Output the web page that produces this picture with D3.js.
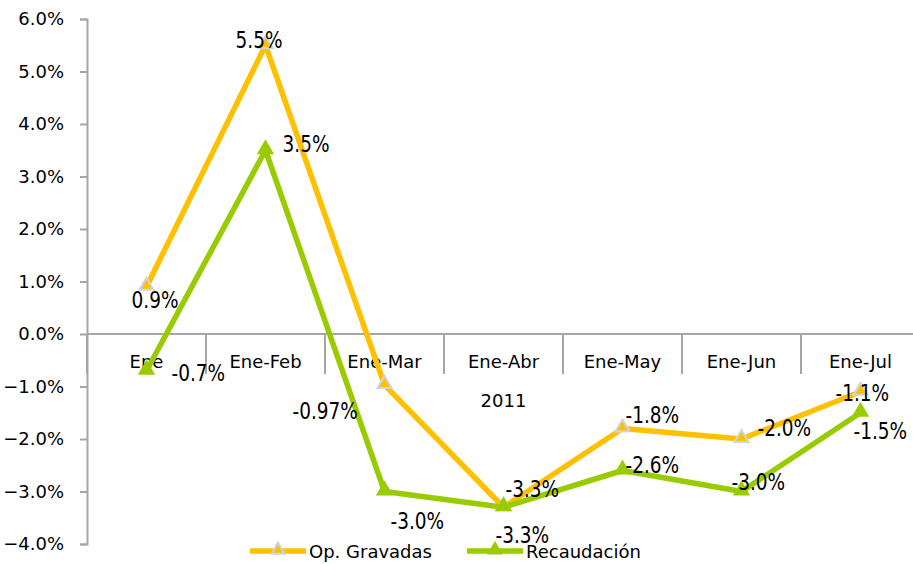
<!DOCTYPE html>
<html>
<head>
<meta charset="utf-8">
<script src="https://cdn.jsdelivr.net/npm/d3@7"></script>
<style>
  body { margin: 0; background: #fff; }
  text { font-family: "DejaVu Sans", sans-serif; fill: #000; }
</style>
</head>
<body>
<div id="wrapper"></div>
<script>
const categories = ["Ene", "Ene-Feb", "Ene-Mar", "Ene-Abr", "Ene-May", "Ene-Jun", "Ene-Jul"]
const opGravadas = [0.9, 5.5, -0.97, -3.3, -1.8, -2.0, -1.1]
const recaudacion = [-0.7, 3.5, -3.0, -3.3, -2.6, -3.0, -1.5]
const opLabels = ["0.9%", "5.5%", "-0.97%", "-3.3%", "-1.8%", "-2.0%", "-1.1%"]
const recLabels = ["-0.7%", "3.5%", "-3.0%", "-3.3%", "-2.6%", "-3.0%", "-1.5%"]
const yTicks = [6, 5, 4, 3, 2, 1, 0, -1, -2, -3, -4]
const yearLabel = "2011"

// label placement relative to the point (layout only): [dx, baseline dy]
const opOffsets = [[-15, 21], [-30, 3], [-92, 34], [2, -10], [3, -6], [16, -3], [-25, 9]]
const recOffsets = [[25, 10], [17, 2], [6, 37], [-8, 36], [3, 2], [-10, -2], [-7, 26]]

async function drawChart() {
    const dimensions = {
        width: 913,
        height: 564,
        margin: { top: 19, right: -7, bottom: 20, left: 87 },
    }
    dimensions.boundedWidth = dimensions.width - dimensions.margin.left - dimensions.margin.right
    dimensions.boundedHeight = dimensions.height - dimensions.margin.top - dimensions.margin.bottom

    const svg = d3.select("#wrapper")
        .append("svg")
        .attr("width", dimensions.width)
        .attr("height", dimensions.height)

    const bounds = svg.append("g")
        .attr("transform", `translate(${dimensions.margin.left}, ${dimensions.margin.top})`)

    const xScaler = d3.scaleBand()
        .domain(categories)
        .range([0, dimensions.boundedWidth])

    const yScaler = d3.scaleLinear()
        .domain([-4, 6])
        .range([dimensions.boundedHeight, 0])

    const xCenter = i => xScaler(categories[i]) + xScaler.bandwidth() / 2
    const axisColor = "#a6a6a6"

    // y axis
    const yAxis = bounds.append("g")
        .call(d3.axisLeft(yScaler)
            .tickValues(yTicks)
            .tickFormat(d => d3.format(".1f")(d) + "%")
            .tickSize(7)
            .tickPadding(16))
    yAxis.select(".domain").attr("stroke", axisColor).attr("stroke-width", 2)
    yAxis.selectAll(".tick line").attr("stroke", axisColor).attr("stroke-width", 2)
    yAxis.selectAll(".tick text")
        .attr("font-size", 18)
        .attr("font-family", "DejaVu Sans")

    // x axis at zero with category boundary ticks
    const y0 = yScaler(0)
    const xAxis = bounds.append("g")
    xAxis.append("line")
        .attr("x1", 0)
        .attr("x2", dimensions.boundedWidth)
        .attr("y1", y0)
        .attr("y2", y0)
        .attr("stroke", axisColor)
        .attr("stroke-width", 2)
    xAxis.selectAll(".boundary")
        .data(categories)
        .join("line")
        .attr("class", "boundary")
        .attr("x1", d => xScaler(d))
        .attr("x2", d => xScaler(d))
        .attr("y1", y0)
        .attr("y2", y0 + 40)
        .attr("stroke", axisColor)
        .attr("stroke-width", 2)
    xAxis.selectAll(".cat")
        .data(categories)
        .join("text")
        .attr("class", "cat")
        .attr("x", d => xScaler(d) + xScaler.bandwidth() / 2)
        .attr("y", y0 + 34)
        .attr("text-anchor", "middle")
        .attr("font-size", 18)
        .text(d => d)
    xAxis.append("text")
        .attr("x", xScaler.bandwidth() * 3.5)
        .attr("y", y0 + 73)
        .attr("text-anchor", "middle")
        .attr("font-size", 18)
        .text(yearLabel)

    const line = d3.line()
        .x((d, i) => xCenter(i))
        .y(d => yScaler(d))

    const triangle = d3.symbol().type(d3.symbolTriangle)

    const series = [
        { values: opGravadas, labels: opLabels, offsets: opOffsets, color: "#ffc000", size: 85, outline: "#c9d6e8" },
        { values: recaudacion, labels: recLabels, offsets: recOffsets, color: "#99cc00", size: 130, outline: "none" },
    ]

    series.forEach(s => {
        bounds.append("path")
            .datum(s.values)
            .attr("d", line)
            .attr("fill", "none")
            .attr("stroke", s.color)
            .attr("stroke-width", 5.5)
            .attr("stroke-linejoin", "round")
    })

    series.forEach(s => {
        bounds.append("g")
            .selectAll("path")
            .data(s.values)
            .join("path")
            .attr("d", triangle.size(s.size))
            .attr("transform", (d, i) => `translate(${xCenter(i)}, ${yScaler(d) - 1})`)
            .attr("fill", s.color)
            .attr("stroke", s.outline)
            .attr("stroke-width", 2)
    })

    // data labels: slightly taller glyphs than the axis text
    series.forEach(s => {
        bounds.append("g")
            .selectAll("text")
            .data(s.values)
            .join("text")
            .attr("transform", (d, i) =>
                `translate(${xCenter(i) + s.offsets[i][0]}, ${yScaler(d) + s.offsets[i][1]}) scale(1, 1.2)`)
            .attr("font-size", 18.5)
            .text((d, i) => s.labels[i])
    })

    // legend
    const legend = svg.append("g")
        .attr("transform", `translate(250, 551)`)
    const legendItems = [
        { name: "Op. Gravadas", s: series[0], x: 0 },
        { name: "Recaudación", s: series[1], x: 217 },
    ]
    legendItems.forEach(item => {
        const g = legend.append("g").attr("transform", `translate(${item.x}, 0)`)
        g.append("line")
            .attr("x1", 0)
            .attr("x2", 56)
            .attr("stroke", item.s.color)
            .attr("stroke-width", 5.5)
        g.append("path")
            .attr("d", triangle.size(item.s.size * 0.85))
            .attr("transform", "translate(28, -1)")
            .attr("fill", item.s.color)
            .attr("stroke", item.s.outline)
            .attr("stroke-width", 2)
        g.append("text")
            .attr("x", 59)
            .attr("y", 7)
            .attr("font-size", 18)
            .text(item.name)
    })
}

drawChart()
</script>
</body>
</html>
